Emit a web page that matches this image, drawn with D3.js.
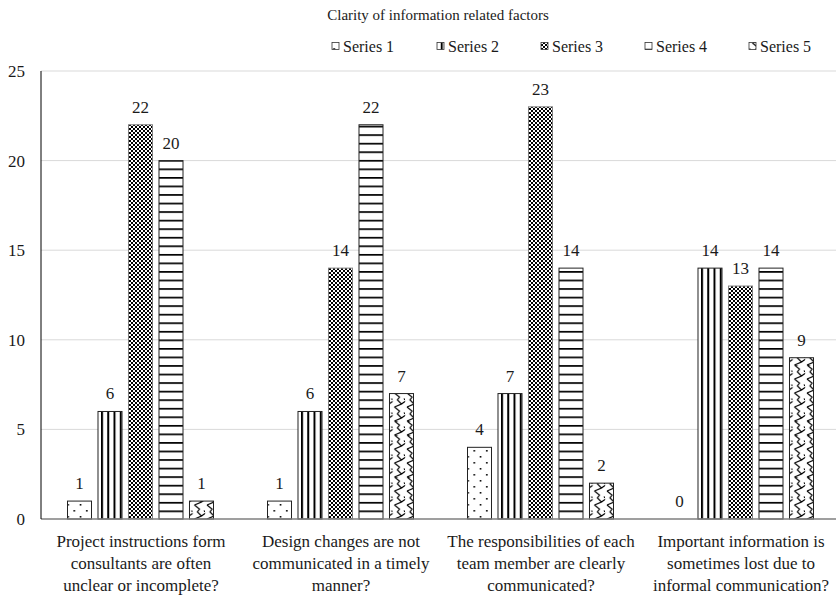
<!DOCTYPE html>
<html>
<head>
<meta charset="utf-8">
<script src="https://cdn.jsdelivr.net/npm/d3@7/dist/d3.min.js"></script>
<style>
  html, body { margin: 0; padding: 0; background: #fff; }
  svg, svg text { font-family: "Liberation Serif", "Times New Roman", Times, serif; }
</style>
</head>
<body>
<svg id="chart" width="836" height="598" font-family="Liberation Serif, Times New Roman, serif"></svg>
<script>
// Survey responses per question, five rating series
const categories = [
  ["Project instructions form", "consultants are often", "unclear or incomplete?"],
  ["Design changes are not", "communicated in a timely", "manner?"],
  ["The responsibilities of each", "team member are clearly", "communicated?"],
  ["Important information is", "sometimes lost due to", "informal communication?"]
];
const seriesNames = ["Series 1", "Series 2", "Series 3", "Series 4", "Series 5"];
const series1 = [1, 1, 4, 0];
const series2 = [6, 6, 7, 14];
const series3 = [22, 14, 23, 13];
const series4 = [20, 22, 14, 14];
const series5 = [1, 7, 2, 9];
const seriesValues = [series1, series2, series3, series4, series5];
const yTicks = [0, 5, 10, 15, 20, 25];
const title = "Clarity of information related factors";

const FONT = "'Liberation Serif', 'Times New Roman', serif";
const svg = d3.select("#chart");
const plotLeft = 41, plotRight = 841, plotTop = 71, plotBottom = 519;

const x0 = d3.scaleBand().domain(d3.range(categories.length)).range([plotLeft, plotRight]);
const x1 = d3.scaleBand().domain(seriesNames).range([26, 173]).paddingInner(0.18);
const y = d3.scaleLinear().domain([0, 25]).range([plotBottom, plotTop]);

// Fill patterns, one per series
const defs = svg.append("defs");
const firstX = s => x0(0) + x1(seriesNames[s]);

// Series 1: sparse dots
const p1 = defs.append("pattern").attr("id", "pat0").attr("patternUnits", "userSpaceOnUse")
  .attr("width", 12.5).attr("height", 12).attr("x", firstX(0)).attr("y", plotBottom);
p1.append("rect").attr("width", 12.5).attr("height", 12).attr("fill", "#fff");
p1.append("rect").attr("x", 3).attr("y", 3).attr("width", 1.6).attr("height", 1.6).attr("fill", "#000");
p1.append("rect").attr("x", 9.3).attr("y", 9).attr("width", 1.6).attr("height", 1.6).attr("fill", "#000");

// Series 2: wide vertical stripes
const p2 = defs.append("pattern").attr("id", "pat1").attr("patternUnits", "userSpaceOnUse")
  .attr("width", 6.25).attr("height", 10).attr("x", firstX(1)).attr("y", 0);
p2.append("rect").attr("width", 6.25).attr("height", 10).attr("fill", "#fff");
p2.append("rect").attr("x", 0).attr("width", 2).attr("height", 10).attr("fill", "#000");

// Series 3: fine checkerboard
const p3 = defs.append("pattern").attr("id", "pat2").attr("patternUnits", "userSpaceOnUse")
  .attr("width", 4).attr("height", 4).attr("x", firstX(2)).attr("y", 0);
p3.append("rect").attr("width", 4).attr("height", 4).attr("fill", "#fff");
p3.append("rect").attr("width", 2).attr("height", 2).attr("fill", "#000");
p3.append("rect").attr("x", 2).attr("y", 2).attr("width", 2).attr("height", 2).attr("fill", "#000");

// Series 4: horizontal stripes
const p4 = defs.append("pattern").attr("id", "pat3").attr("patternUnits", "userSpaceOnUse")
  .attr("width", 10).attr("height", 8.55).attr("x", 0).attr("y", plotBottom);
p4.append("rect").attr("width", 10).attr("height", 8.55).attr("fill", "#fff");
p4.append("rect").attr("y", 0).attr("width", 10).attr("height", 1.7).attr("fill", "#000");

// Series 5: wave
const p5 = defs.append("pattern").attr("id", "pat4").attr("patternUnits", "userSpaceOnUse")
  .attr("width", 12.5).attr("height", 14).attr("x", firstX(4)).attr("y", plotBottom);
p5.append("rect").attr("width", 12.5).attr("height", 14).attr("fill", "#fff");
p5.append("path")
  .attr("d", "M2,0 L7,4 L5,7 L9,11 L2,14 M9,11 L12.5,8.5 M0,8.5 L-1,7 M12.5,7 L11.5,5.5")
  .attr("fill", "none").attr("stroke", "#000").attr("stroke-width", 1.2);

// Gridlines
svg.append("g").selectAll("line").data(yTicks.filter(t => t > 0)).join("line")
  .attr("x1", plotLeft).attr("x2", plotRight)
  .attr("y1", d => y(d)).attr("y2", d => y(d))
  .attr("stroke", "#d9d9d9").attr("stroke-width", 1);

// Bars
const groups = svg.append("g").selectAll("g").data(categories).join("g")
  .attr("transform", (d, i) => `translate(${x0(i)},0)`);

groups.each(function(cat, i) {
  const g = d3.select(this);
  seriesNames.forEach((name, s) => {
    const v = seriesValues[s][i];
    if (v > 0) {
      g.append("rect")
        .attr("x", x1(name) + 0.5).attr("y", y(v))
        .attr("width", x1.bandwidth() - 1).attr("height", y(0) - y(v))
        .attr("fill", `url(#pat${s})`)
        .attr("stroke", s === 2 ? "#808080" : "#222").attr("stroke-width", 1);
    }
    g.append("text")
      .attr("x", x1(name) + x1.bandwidth() / 2)
      .attr("y", y(v) - 12)
      .attr("text-anchor", "middle")
      .style("font-family", FONT).attr("font-size", 17).attr("fill", "#1a1a1a")
      .text(v);
  });
});

// Axes
svg.append("line").attr("x1", plotLeft).attr("x2", plotRight).attr("y1", plotBottom).attr("y2", plotBottom)
  .attr("stroke", "#7f7f7f").attr("stroke-width", 1.5);
svg.append("line").attr("x1", plotLeft).attr("x2", plotLeft).attr("y1", plotTop).attr("y2", plotBottom)
  .attr("stroke", "#000").attr("stroke-width", 1);

svg.append("g").selectAll("text").data(yTicks).join("text")
  .attr("x", 25).attr("y", d => y(d)).attr("dy", "0.35em")
  .attr("text-anchor", "end").style("font-family", FONT).attr("font-size", 17).attr("fill", "#1a1a1a")
  .text(d => d);

// Category labels
svg.append("g").selectAll("text").data(categories).join("text")
  .attr("text-anchor", "middle").style("font-family", FONT).attr("font-size", 17).attr("fill", "#1a1a1a")
  .attr("transform", (d, i) => `translate(${x0(i) + x0.bandwidth() / 2},547)`)
  .each(function(lines) {
    d3.select(this).selectAll("tspan").data(lines).join("tspan")
      .attr("x", 0).attr("y", (d, k) => k * 22).text(d => d);
  });

// Title
svg.append("text").attr("x", 438).attr("y", 20).attr("text-anchor", "middle")
  .style("font-family", FONT).attr("font-size", 15).attr("fill", "#1a1a1a").text(title);

// Legend
const legendX = [332, 437, 541, 645, 749];
const legend = svg.append("g").selectAll("g").data(seriesNames).join("g")
  .attr("transform", (d, i) => `translate(${legendX[i]},0)`);
legend.append("rect").attr("x", 0).attr("y", 42.5).attr("width", 7).attr("height", 7)
  .attr("fill", (d, i) => `url(#pat${i})`).attr("stroke", "#333").attr("stroke-width", 0.8);
legend.append("text").attr("x", 11).attr("y", 52).style("font-family", FONT).attr("font-size", 16).attr("fill", "#1a1a1a")
  .text(d => d);
</script>
</body>
</html>
